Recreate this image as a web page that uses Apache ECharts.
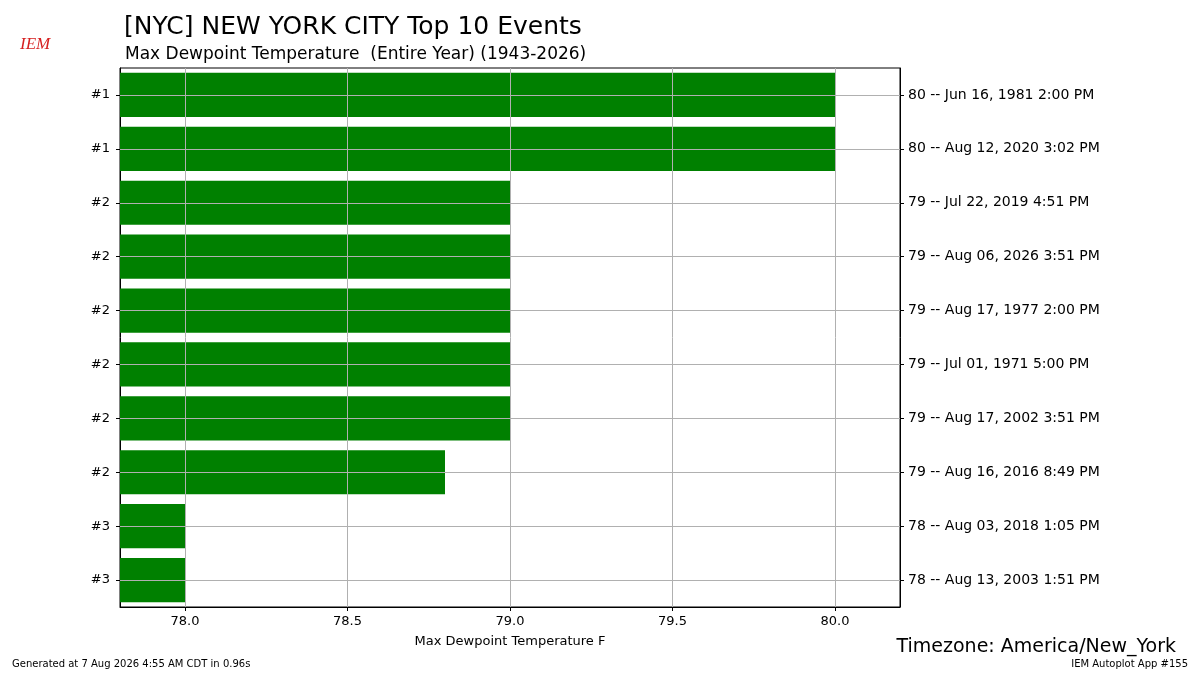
<!DOCTYPE html>
<html>
<head>
<meta charset="utf-8">
<script src="https://cdn.jsdelivr.net/npm/echarts@6/dist/echarts.min.js"></script>
<style>html,body{margin:0;padding:0;background:#fff}#main{width:1200px;height:675px}</style>
</head>
<body>
<div id="main"></div>
<script>
var ranks = ['#1', '#1', '#2', '#2', '#2', '#2', '#2', '#2', '#3', '#3'];
var values = [80, 80, 79, 79, 79, 79, 79, 78.8, 78, 78];
var events = [
  '80 -- Jun 16, 1981 2:00 PM',
  '80 -- Aug 12, 2020 3:02 PM',
  '79 -- Jul 22, 2019 4:51 PM',
  '79 -- Aug 06, 2026 3:51 PM',
  '79 -- Aug 17, 1977 2:00 PM',
  '79 -- Jul 01, 1971 5:00 PM',
  '79 -- Aug 17, 2002 3:51 PM',
  '79 -- Aug 16, 2016 8:49 PM',
  '78 -- Aug 03, 2018 1:05 PM',
  '78 -- Aug 13, 2003 1:51 PM'
];
var idx = ranks.map(function (r, i) { return i; });
var font = 'DejaVu Sans';
var xticks = [78, 78.5, 79, 79.5, 80];
var gridLines = [];
idx.forEach(function (i) { gridLines.push({ yAxis: i }); });
xticks.forEach(function (v) { gridLines.push({ xAxis: v }); });

var chart = echarts.init(document.getElementById('main'));
chart.setOption({
  animation: false,
  textStyle: { fontFamily: font },
  title: [
    { text: '[NYC] NEW YORK CITY Top 10 Events', left: 119, top: 10, textStyle: { fontSize: 25, fontWeight: 'normal', color: '#000', fontFamily: font } },
    { text: 'Max Dewpoint Temperature  (Entire Year) (1943-2026)', left: 120, top: 41, textStyle: { fontSize: 17, fontWeight: 'normal', color: '#000', fontFamily: font } }
  ],
  graphic: [
    { type: 'text', left: 20, top: 36, style: { text: 'IEM', fill: '#d62020', font: 'italic 17px serif' } },
    { type: 'text', right: 24, top: 638, style: { text: 'Timezone: America/New_York', fill: '#000', font: '19px DejaVu Sans' } },
    { type: 'text', left: 12, top: 659, style: { text: 'Generated at 7 Aug 2026 4:55 AM CDT in 0.96s', fill: '#000', font: '10px DejaVu Sans' } },
    { type: 'text', right: 12, top: 659, style: { text: 'IEM Autoplot App #155', fill: '#000', font: '10px DejaVu Sans' } }
  ],
  grid: { left: 120, right: 300, top: 68, bottom: 68, show: true, borderColor: '#000', borderWidth: 1 },
  xAxis: {
    type: 'value', min: 77.8, max: 80.2,
    name: 'Max Dewpoint Temperature F', nameLocation: 'middle', nameGap: 28,
    nameTextStyle: { fontSize: 13, color: '#000' },
    axisLine: { show: true, lineStyle: { color: '#000' } },
    axisTick: { show: true, length: 4, lineStyle: { color: '#000' }, customValues: xticks },
    splitLine: { show: false },
    axisLabel: {
      color: '#000', fontSize: 13, margin: 8, customValues: xticks,
      formatter: function (v) { return v.toFixed(1); }
    }
  },
  yAxis: [
    {
      type: 'category', data: idx, inverse: true,
      axisLine: { show: true, lineStyle: { color: '#000' } },
      axisTick: { show: true, alignWithLabel: true, length: 4, lineStyle: { color: '#000' } },
      axisLabel: { color: '#000', fontSize: 13, margin: 10, formatter: function (v) { return ranks[v]; } }
    },
    {
      type: 'category', data: idx, inverse: true, position: 'right',
      axisLine: { show: true, lineStyle: { color: '#000' } },
      axisTick: { show: true, alignWithLabel: true, length: 4, lineStyle: { color: '#000' } },
      axisLabel: { color: '#000', fontSize: 14, margin: 8, formatter: function (v) { return events[v]; } }
    }
  ],
  series: [{
    type: 'bar', data: values, barCategoryGap: '18%',
    itemStyle: { color: '#008000' },
    markLine: {
      silent: true, symbol: 'none', label: { show: false },
      lineStyle: { color: '#b0b0b0', type: 'solid', width: 1 },
      data: gridLines
    }
  }]
});
</script>
</body>
</html>
